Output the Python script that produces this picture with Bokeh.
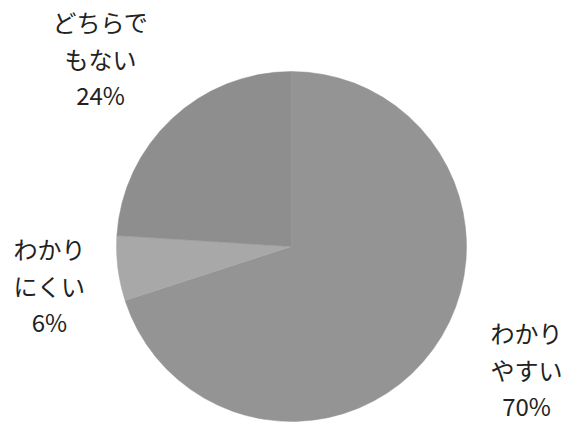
import math
from bokeh.plotting import figure
from bokeh.models import Range1d
from bokeh.core.properties import value
from bokeh.embed import file_html
from bokeh.resources import INLINE

# Data
categories = ["わかりやすい", "わかりにくい", "どちらでもない"]
label_line1 = ["わかり", "わかり", "どちらで"]
label_line2 = ["やすい", "にくい", "もない"]
percents = [70, 6, 24]
colors = ["#949494", "#a8a8a8", "#8e8e8e"]

# Label anchor positions (image pixel coords, center of first line)
label_x = [526, 49, 100]
label_y = [332, 248, 21]
line_gap = 36.5

W, H = 569, 423
p = figure(width=W, height=H, output_backend="svg", toolbar_location=None,
           x_range=Range1d(0, W), y_range=Range1d(0, H),
           min_border=0)
p.axis.visible = False
p.grid.visible = False
p.outline_line_color = None
p.background_fill_color = "white"
p.border_fill_color = "white"

cx, cy, r = 291, H - 246, 175

# slices clockwise from 12 o'clock
start = 90.0
for pct, col in zip(percents, colors):
    sweep = pct / 100 * 360
    end = start - sweep
    p.wedge(x=cx, y=cy, radius=r, start_angle=math.radians(end),
            end_angle=math.radians(start), fill_color=col, line_color=col,
            line_width=0.5)
    start = end

for i in range(len(categories)):
    lines = [label_line1[i], label_line2[i], f"{percents[i]}%"]
    for k, t in enumerate(lines):
        p.text(x=[label_x[i]], y=[H - (label_y[i] + k * line_gap)], text=[t],
               text_font=value("Noto Sans CJK JP"), text_font_size="24px",
               text_color="#222222", text_align="center",
               text_baseline="middle")

open("out.html", "w").write(file_html(p, INLINE))
